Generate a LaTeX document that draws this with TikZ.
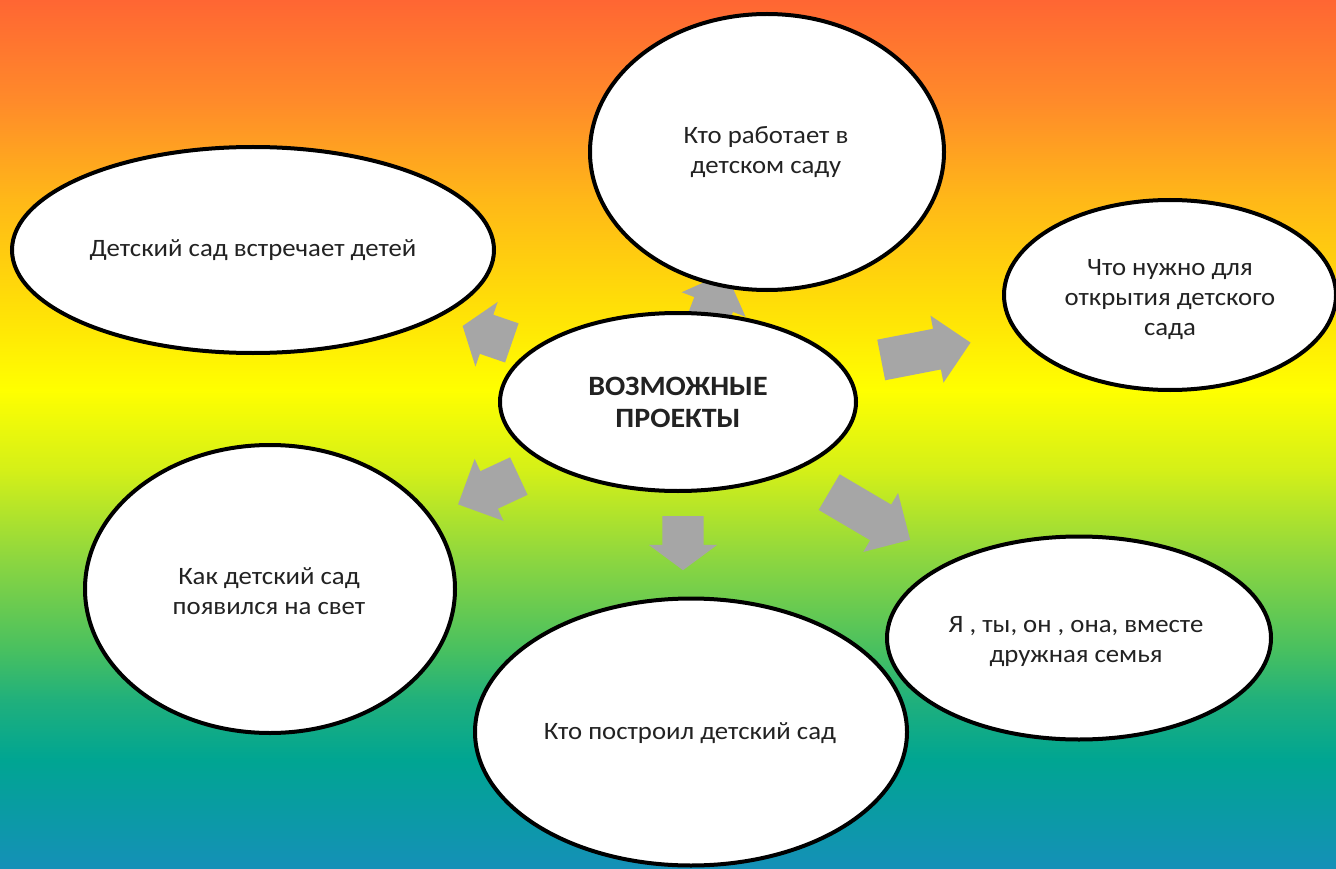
\documentclass[tikz,border=0pt]{standalone}
\usepackage{fontspec}
\setmainfont[FakeStretch=1.07]{Carlito}
\usetikzlibrary{shapes.geometric,shapes.arrows}
\definecolor{g0}{RGB}{255,102,51}
\definecolor{g100}{RGB}{255,138,42}
\definecolor{g200}{RGB}{255,184,24}
\definecolor{g300}{RGB}{255,221,8}
\definecolor{g390}{RGB}{255,255,0}
\definecolor{g470}{RGB}{212,240,24}
\definecolor{g560}{RGB}{140,214,64}
\definecolor{g650}{RGB}{72,192,96}
\definecolor{g700}{RGB}{32,176,124}
\definecolor{g760}{RGB}{0,165,146}
\definecolor{g869}{RGB}{21,144,184}
\definecolor{arrowgray}{RGB}{166,166,166}
\definecolor{txt}{RGB}{34,34,34}
\pgfdeclareverticalshading{bgshade}{100bp}{color(0bp)=(g869); color(25bp)=(g869); color(31.27bp)=(g760); color(34.72bp)=(g700); color(37.6bp)=(g650); color(42.78bp)=(g560); color(47.96bp)=(g470); color(52.56bp)=(g390); color(57.74bp)=(g300); color(63.49bp)=(g200); color(69.25bp)=(g100); color(75bp)=(g0); color(100bp)=(g0)}
\begin{document}
\begin{tikzpicture}[x=1pt,y=-1pt,
  bubble/.style={ellipse, draw=black, line width=4pt, fill=white, inner sep=0pt},
  blockarr/.style={single arrow, fill=arrowgray, draw=none, inner xsep=0pt, inner ysep=20.5pt,
    minimum width=68pt, single arrow head extend=13.5pt, anchor=tail},
  lbl/.style={text=txt, align=center, font=\fontsize{25}{30}\selectfont},
  title/.style={text=txt, align=center, font=\fontsize{28}{32}\selectfont\bfseries}]
\useasboundingbox (0,0) rectangle (1336,869);
\shade[shading=bgshade] (0,0) rectangle (1336,869);
% arrows
\node[blockarr, minimum height=52pt, single arrow tip angle=107, rotate=161] (a1) at (512,343) {};
\node[blockarr, minimum height=72pt, rotate=69] (a2) at (700,340) {};
\node[blockarr, minimum height=91pt, rotate=11] (a3) at (881,360) {};
\node[blockarr, minimum height=67pt, rotate=205] (a4) at (519,476) {};
\node[blockarr, minimum height=54pt, single arrow tip angle=107, rotate=-90] (a5) at (683,516) {};
\node[blockarr, minimum height=94pt, rotate=-30.5] (a6) at (829,492) {};
% ellipses
\node[bubble, minimum width=354pt, minimum height=276pt] (e1) at (767,152) {};
\node[bubble, minimum width=482pt, minimum height=206pt] (e2) at (253,250) {};
\node[bubble, minimum width=332pt, minimum height=190pt] (e3) at (1170,295) {};
\node[bubble, minimum width=356pt, minimum height=178pt] (e4) at (678,402) {};
\node[bubble, minimum width=370pt, minimum height=288pt] (e5) at (270,589) {};
\node[bubble, minimum width=432pt, minimum height=267pt] (e6) at (691,732) {};
\node[bubble, minimum width=384pt, minimum height=203pt] (e7) at (1079,638) {};
% texts
\node[lbl] (t1) at (766,152) {Кто работает в\\детском саду};
\node[lbl] (t2) at (253,250) {Детский сад встречает детей};
\node[lbl] (t3) at (1170,300) {Что нужно для\\открытия детского\\сада};
\node[title] (t4) at (678,402) {ВОЗМОЖНЫЕ\\ПРОЕКТЫ};
\node[lbl] (t5) at (269,591) {Как детский сад\\появился на свет};
\node[lbl] (t6) at (690,733) {Кто построил детский сад};
\node[lbl] (t7) at (1076,642) {Я , ты, он , она, вместе\\дружная семья};
\end{tikzpicture}
\end{document}
